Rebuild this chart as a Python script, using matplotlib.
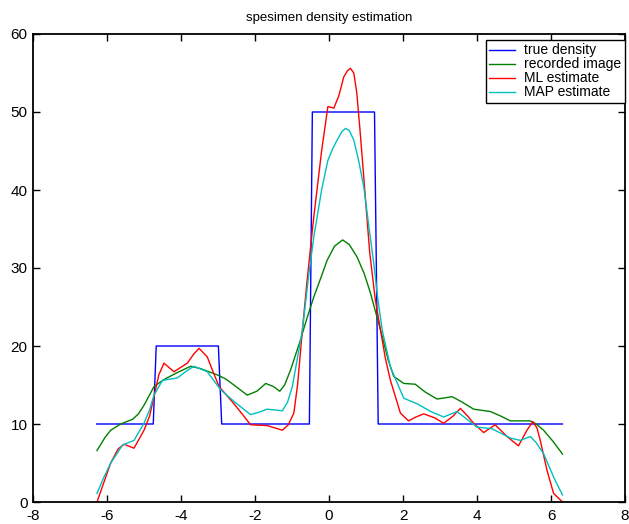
import matplotlib.pyplot as plt

# true density (sampled step function)
true_x = [-6.28, -4.75, -4.67, -2.99, -2.90, -0.53, -0.45, 1.23, 1.33, 6.31]
true_y = [10, 10, 20, 20, 10, 10, 50, 50, 10, 10]

# recorded image
rec_x = [-6.27, -6.05, -5.90, -5.63, -5.31, -5.15, -5.00, -4.73, -4.46, -4.14, -3.74,
         -3.47, -3.02, -2.80, -2.57, -2.21, -1.95, -1.71, -1.50, -1.33, -1.20, -1.04,
         -0.77, -0.60, -0.41, -0.20, -0.05, 0.15, 0.37, 0.55, 0.76, 0.95, 1.12,
         1.28, 1.44, 1.60, 1.75, 2.02, 2.33, 2.60, 2.92, 3.33, 3.60, 3.91, 4.36,
         4.65, 4.90, 5.44, 5.60, 5.80, 6.05, 6.31]
rec_y = [6.6, 8.3, 9.2, 10.0, 10.6, 11.3, 12.4, 14.8, 15.7, 16.5, 17.4,
         17.1, 16.3, 15.8, 15.0, 13.7, 14.2, 15.2, 14.8, 14.2, 15.0, 16.9,
         20.8, 23.5, 26.3, 29.0, 31.0, 32.8, 33.6, 33.0, 31.4, 29.3, 26.8,
         24.0, 21.2, 18.2, 16.1, 15.2, 15.1, 14.1, 13.2, 13.5, 12.8, 11.9, 11.6,
         11.0, 10.4, 10.4, 10.0, 9.2, 7.8, 6.15]

# ML estimate
ml_x = [-6.27, -6.10, -5.90, -5.70, -5.54, -5.27, -5.00, -4.85, -4.73, -4.60, -4.46,
        -4.19, -3.83, -3.65, -3.51, -3.29, -3.10, -2.97, -2.57, -2.30, -2.12, -1.67,
        -1.26, -1.10, -0.95, -0.85, -0.72, -0.60, -0.41, -0.20, -0.03, 0.13, 0.26,
        0.40, 0.50, 0.58, 0.67, 0.75, 0.85, 0.95, 1.10, 1.25, 1.39, 1.52, 1.66,
        1.93, 2.15, 2.35, 2.56, 2.85, 3.10, 3.35, 3.55, 3.75, 3.91, 4.18, 4.49,
        4.81, 5.12, 5.35, 5.51, 5.62, 5.71, 5.89, 6.07, 6.31]
ml_y = [0.0, 2.3, 5.0, 6.8, 7.4, 6.9, 9.2, 11.0, 13.5, 16.3, 17.8,
        16.7, 17.8, 19.0, 19.7, 18.6, 16.3, 14.8, 12.6, 11.0, 9.9, 9.8,
        9.2, 9.9, 11.4, 15.0, 22.0, 28.0, 36.6, 45.0, 50.7, 50.5, 52.0,
        54.5, 55.3, 55.6, 55.0, 52.5, 47.0, 41.0, 32.0, 26.0, 22.1, 18.5, 15.6,
        11.4, 10.4, 10.9, 11.3, 10.8, 10.1, 11.0, 12.0, 11.0, 10.1, 8.9, 9.9,
        8.4, 7.2, 9.2, 10.3, 9.5, 7.9, 4.1, 1.1, 0.0]

# MAP estimate
map_x = [-6.27, -6.10, -5.90, -5.58, -5.27, -5.00, -4.85, -4.73, -4.50, -4.10, -3.85,
         -3.65, -3.29, -2.93, -2.57, -2.12, -1.90, -1.67, -1.26, -1.12, -0.99, -0.72,
         -0.55, -0.41, -0.20, -0.03, 0.10, 0.22, 0.35, 0.45, 0.55, 0.67, 0.80,
         0.94, 1.10, 1.21, 1.32, 1.44, 1.66, 2.02, 2.38, 2.75, 3.10, 3.46, 4.00,
         4.40, 4.90, 5.17, 5.44, 5.60, 5.80, 6.07, 6.31]
map_y = [1.1, 3.0, 5.0, 7.3, 7.9, 10.1, 11.8, 13.7, 15.6, 15.9, 16.8,
         17.4, 16.7, 14.4, 12.9, 11.2, 11.5, 11.9, 11.7, 12.8, 14.8, 22.0,
         29.0, 34.0, 40.0, 43.8, 45.3, 46.4, 47.5, 47.9, 47.6, 46.4, 43.8,
         40.4, 34.5, 30.6, 26.0, 22.0, 17.3, 13.3, 12.6, 11.6, 10.9, 11.6, 9.6,
         9.4, 8.2, 7.9, 8.4, 7.6, 6.2, 3.2, 0.9]

plt.rcParams['font.family'] = ['Liberation Sans', 'DejaVu Sans']
plt.rcParams['axes.unicode_minus'] = False

fig = plt.figure(figsize=(6.29, 5.24), dpi=100)
ax = fig.add_axes([33 / 629, 1 - 502 / 524, 592 / 629, 468 / 524])

ax.plot(true_x, true_y, color='#0000ff', lw=1, label='true density')
ax.plot(rec_x, rec_y, color='#008000', lw=1, label='recorded image')
ax.plot(ml_x, ml_y, color='#ff0000', lw=1, label='ML estimate')
ax.plot(map_x, map_y, color='#00bfbf', lw=1, label='MAP estimate')

ax.set_xlim(-8, 8)
ax.set_ylim(0, 60)
ax.set_xticks(range(-8, 9, 2))
ax.set_yticks(range(0, 61, 10))
ax.tick_params(direction='in', top=True, right=True, length=5, labelsize=11, width=1)
ax.tick_params(axis='x', pad=5)
ax.tick_params(axis='y', pad=4)
for s in ax.spines.values():
    s.set_linewidth(1.3)
ax.set_title('spesimen density estimation', fontsize=9.5, pad=9)

leg = ax.legend(loc='upper right', bbox_to_anchor=(1.0, 1 - 6 / 468), fontsize=10,
                fancybox=False, framealpha=1, edgecolor='black', borderaxespad=0,
                handlelength=1.9, labelspacing=0.0, borderpad=0.25, handletextpad=0.65)
leg.get_frame().set_linewidth(1)

plt.savefig('out.png')
